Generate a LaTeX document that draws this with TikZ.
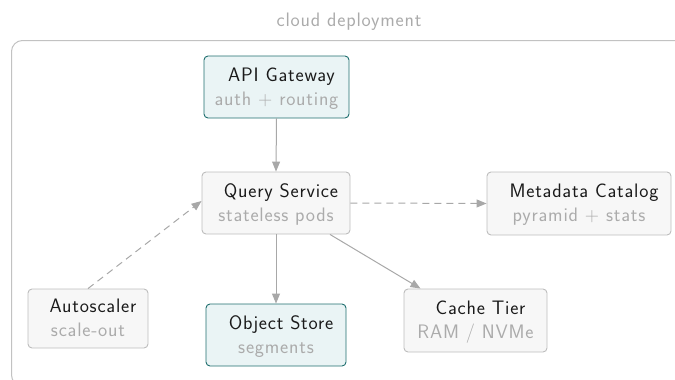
\documentclass[tikz,border=0pt]{standalone}
\usepackage{fontspec}
\setsansfont{Latin Modern Sans}[LetterSpace=4]
\usetikzlibrary{arrows.meta}
\definecolor{edgegray}{HTML}{A8A8A8}
\definecolor{boxline}{HTML}{BDBDBD}
\definecolor{boxfill}{HTML}{F7F7F7}
\definecolor{tealline}{HTML}{1E6E6E}
\definecolor{tealfill}{HTML}{EAF4F5}
\definecolor{titletext}{HTML}{1A1A1A}
\definecolor{subtext}{HTML}{ABABAB}
\definecolor{framegray}{HTML}{C2C2C2}
\tikzset{
  box/.style={draw=boxline, fill=boxfill, rounded corners=4pt, line width=0.9pt, inner sep=0pt},
  tealbox/.style={box, draw=tealline, fill=tealfill},
  ttl/.style={anchor=base, inner sep=0pt, text=titletext, font=\sffamily\fontsize{19.5}{22}\selectfont},
  sub/.style={anchor=base, inner sep=0pt, text=subtext, font=\sffamily\fontsize{19.5}{22}\selectfont},
  flow/.style={draw=edgegray, line width=1pt, -{Triangle[length=10pt,width=8pt]}},
  soft/.style={flow, dash pattern=on 7pt off 5pt},
}
% card: name, centre, width, height, style, title, subtitle
\newcommand{\card}[7]{%
  \node[#5, minimum width=#3pt, minimum height=#4pt] (#1) at (#2) {};
  \node[ttl] (#1-t) at ([xshift=5pt, yshift=6pt]#1.center) {#6};
  \node[sub] (#1-s) at ([yshift=-18pt]#1.center) {#7};
}
\begin{document}
\begin{tikzpicture}[x=1pt, y=-1pt]
  \useasboundingbox (0,0) rectangle (675,380);
  \begin{scope}
    \clip (0,0) rectangle (675,380);
    \draw[framegray, line width=1pt, rounded corners=11pt] (11.5,40.5) rectangle (700,386);
  \end{scope}
  \node[sub, text=subtext, anchor=base] (frame-label) at (349,26) {cloud deployment};

  \card{gw}{276.5,87}{145}{62}{tealbox}{API Gateway}{auth + routing}
  \card{qs}{276,203}{148}{62}{box}{Query Service}{stateless pods}
  \card{mc}{579,203.5}{184}{63}{box}{Metadata Catalog}{pyramid + stats}
  \card{as}{88,318.5}{120}{59}{box}{Autoscaler}{scale-out}
  \card{os}{276,335}{140}{62}{tealbox}{Object Store}{segments}
  \card{ct}{475.5,320.5}{143}{63}{box}{Cache Tier}{RAM / NVMe}

  \draw[flow] (gw.south) -- (qs.north);
  \draw[flow] (qs.south) -- (os.north);
  \draw[soft] (qs.east) -- (mc.west);
  \draw[flow] ([xshift=54pt]qs.south) -- ([xshift=-55pt]ct.north);
  \draw[soft] (as.north) -- ([yshift=2pt]qs.west);
\end{tikzpicture}
\end{document}
